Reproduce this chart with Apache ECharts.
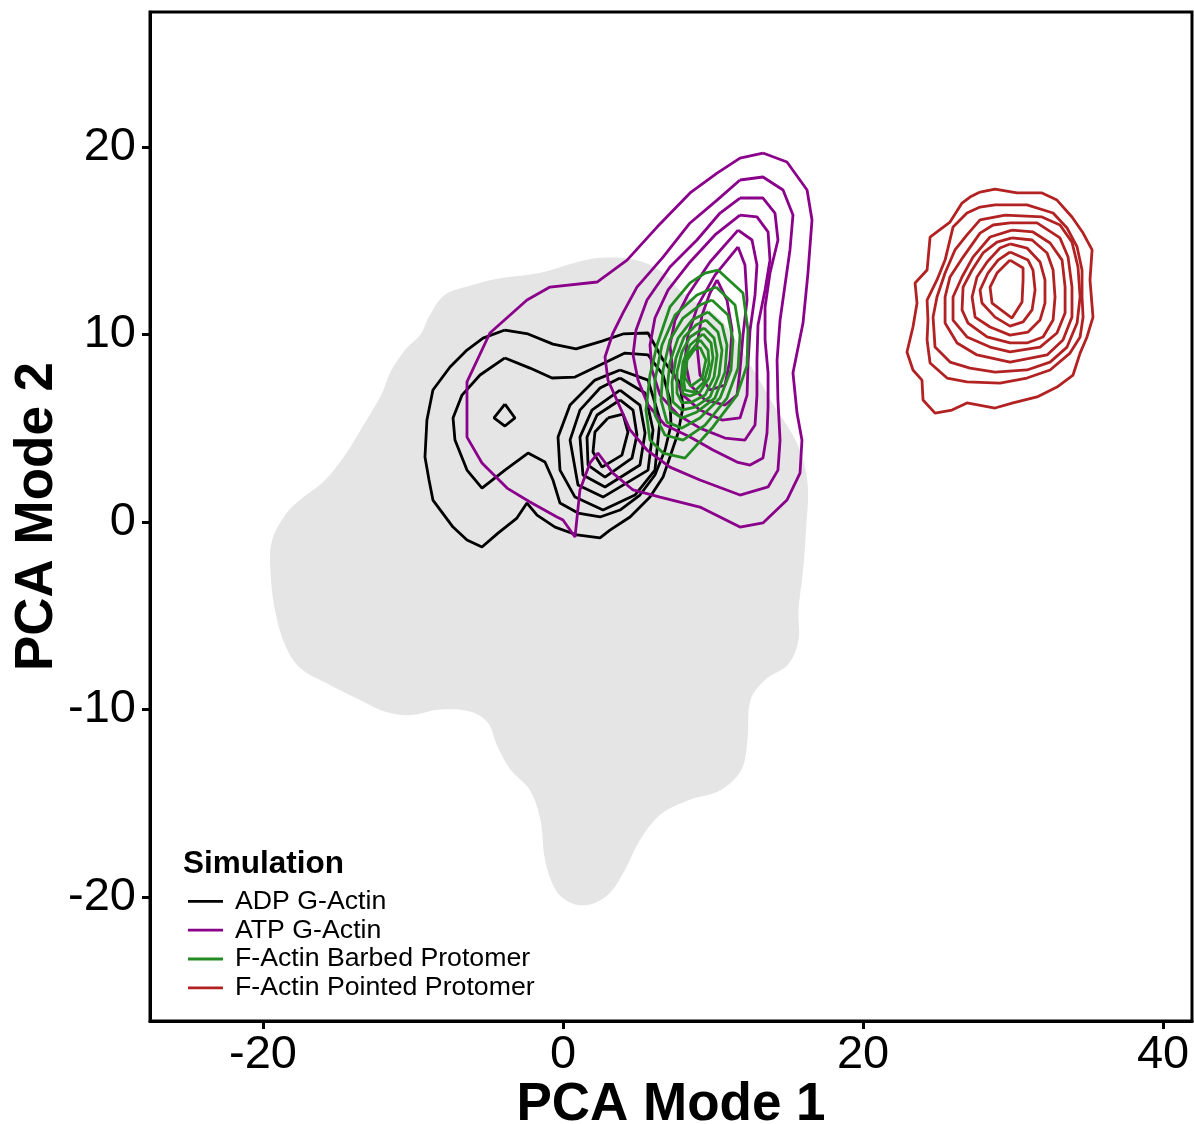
<!DOCTYPE html>
<html>
<head>
<meta charset="utf-8">
<script src="https://cdn.jsdelivr.net/npm/echarts@6/dist/echarts.min.js"></script>
<style>
  html, body { margin: 0; padding: 0; background: #fff; }
  #chart { width: 1194px; height: 1124px; }
</style>
</head>
<body>
<div id="chart"></div>
<script>
// axis ticks
var xTicks = [-20, 0, 20, 40];
var yTicks = [-20, -10, 0, 10, 20];

var seriesNames = ['ADP G-Actin', 'ATP G-Actin', 'F-Actin Barbed Protomer', 'F-Actin Pointed Protomer'];
var seriesColors = ['#000000', '#8B008B', '#228B22', '#B22222'];

// grey background density region (outline, PCA units)
var backgroundRegion = [
  [2.5,14.1],[4.7,14.0],[6.5,13.4],[8.0,12.2],[10.5,10.8],[12.7,8.1],[14.0,6.3],[15.6,4.2],
  [16.3,2.1],[16.2,-0.4],[16.0,-2.6],[15.7,-4.7],[15.7,-6.3],[15.0,-7.6],[13.5,-8.4],[12.5,-9.5],
  [12.3,-11.6],[11.9,-13.2],[10.5,-14.3],[8.5,-14.8],[6.5,-15.6],[5.1,-17.0],[4.1,-18.6],[3.1,-19.8],
  [1.8,-20.4],[0.5,-20.3],[-0.5,-19.6],[-1.2,-18.0],[-1.5,-15.9],[-2.2,-14.3],[-3.5,-13.2],[-4.4,-11.9],
  [-5.0,-10.7],[-6.2,-10.1],[-8.2,-10.0],[-10.2,-10.3],[-11.9,-10.1],[-13.5,-9.5],[-15.5,-8.7],[-17.5,-7.8],
  [-18.5,-6.6],[-19.2,-4.7],[-19.5,-2.6],[-19.4,-1.0],[-18.5,0.4],[-17.5,1.2],[-15.9,2.2],[-14.5,3.6],
  [-13.5,4.9],[-12.1,6.8],[-11.5,8.0],[-10.5,9.2],[-9.5,10.0],[-8.9,11.0],[-7.9,12.1],[-6.2,12.6],
  [-4.2,13.0],[-1.5,13.3],[1.1,13.9]
];

// ADP G-Actin contours
var adpRings = [
  [[-3.87,10.24],[-2.33,10.03],[-0.67,9.49],[0.87,9.23],[2.6,9.65],[4.0,10.03],[5.67,10.08],[6.67,8.64],
   [7.8,7.41],[8.0,6.13],[7.67,4.75],[7.13,3.47],[6.67,2.4],[5.8,1.33],[4.47,0.27],[3.13,-0.43],
   [2.47,-0.85],[0.93,-0.69],[-0.53,-0.27],[-1.73,0.37],[-2.4,1.01],[-3.07,0.21],[-4.33,-0.59],[-5.4,-1.33],
   [-6.4,-0.96],[-7.33,-0.27],[-8.67,1.17],[-8.93,2.24],[-9.2,3.47],[-9.07,5.44],[-8.67,7.04],[-7.53,8.27],
   [-6.4,9.17],[-5.33,9.81]],
  [[-3.87,8.75],[-2.2,8.21],[-0.73,7.68],[0.8,7.73],[2.47,8.37],[4.13,9.01],[5.67,8.91],[6.67,7.84],
   [7.13,6.51],[7.2,5.17],[6.8,3.84],[6.13,2.51],[5.13,1.44],[3.8,0.64],[2.47,0.27],[1.0,0.48],
   [-0.2,1.01],[-0.67,2.24],[-1.2,3.2],[-2.33,3.68],[-3.87,2.77],[-5.4,1.81],[-6.4,2.77],[-7.2,4.37],
   [-7.33,5.55],[-6.73,6.77],[-5.53,7.84]],
  [[-3.87,6.29],[-3.2,5.55],[-3.87,5.12],[-4.6,5.55]],
  [[3.8,8.11],[5.67,7.57],[6.47,5.44],[6.13,2.77],[4.8,1.44],[2.67,0.64],[0.8,1.33],[-0.2,2.77],
   [-0.33,4.53],[0.47,6.24],[2.13,7.57]],
  [[3.8,7.68],[5.47,6.88],[6.0,4.91],[5.67,2.77],[2.67,1.33],[1.0,1.97],[0.47,4.37],[1.13,5.97],[2.47,7.15]],
  [[3.8,7.04],[5.13,6.24],[5.47,4.75],[5.13,3.04],[2.8,1.87],[1.33,2.51],[1.13,4.53],[1.93,5.97]],
  [[3.8,6.51],[4.67,5.97],[4.93,4.64],[4.6,3.41],[2.8,2.4],[1.67,3.04],[1.6,4.53],[2.27,5.71]],
  [[3.0,5.55],[4.0,5.76],[4.33,4.8],[3.93,3.57],[2.6,2.93],[2.0,3.73],[2.13,4.8]]
];

// ATP G-Actin contours
var atpRings = [
  [[13.33,19.68],[14.93,19.2],[16.27,17.71],[16.6,16.11],[16.33,13.28],[16.0,10.61],[15.33,7.95],[15.6,5.81],
   [15.93,4.37],[15.8,2.61],[14.93,1.17],[13.33,-0.05],[11.8,-0.27],[9.13,0.8],[6.47,1.33],[4.67,1.71],
   [3.33,2.61],[2.33,3.68],[1.8,3.15],[1.13,1.71],[0.8,-0.8],[0.0,0.11],[-0.4,0.27],[-2.2,1.07],
   [-3.73,1.81],[-5.4,3.15],[-6.4,4.53],[-6.4,7.47],[-4.87,10.08],[-2.4,11.84],[-0.87,12.53],[2.27,12.8],
   [4.27,13.97],[6.27,15.73],[8.47,17.55],[10.27,18.61],[11.8,19.41]],
  [[11.8,18.24],[13.33,18.4],[14.67,17.71],[15.33,16.37],[15.13,14.51],[14.8,12.64],[14.47,10.77],[14.27,8.64],
   [14.33,6.51],[14.47,4.37],[14.33,2.77],[13.67,1.87],[11.8,1.44],[9.13,2.24],[7.13,2.93],[5.6,3.84],
   [4.47,4.91],[3.8,6.13],[3.0,7.57],[2.8,8.8],[3.33,10.08],[4.0,11.15],[4.93,12.53],[6.67,14.13],
   [8.47,15.95],[10.27,17.17]],
  [[11.8,17.28],[13.33,17.28],[14.13,16.48],[14.33,15.04],[13.8,13.28],[13.47,11.47],[13.47,9.71],[13.67,7.95],
   [13.67,6.13],[13.6,4.75],[13.33,3.41],[12.47,3.04],[11.6,3.2],[10.0,3.84],[8.47,4.53],[6.8,5.17],
   [5.67,6.24],[5.0,7.57],[4.67,8.91],[4.87,10.24],[5.6,11.84],[7.13,13.6],[8.93,15.04],[10.47,16.48]],
  [[11.8,16.37],[12.93,16.27],[13.67,15.47],[13.8,13.97],[13.47,12.37],[13.0,10.51],[12.93,8.64],[12.93,6.77],
   [12.8,5.17],[12.13,4.37],[10.8,4.48],[9.13,5.01],[7.67,5.71],[6.47,6.77],[5.93,8.11],[5.8,9.44],
   [6.13,10.88],[7.0,12.37],[8.47,13.87],[10.13,15.31]],
  [[11.67,15.57],[12.6,15.04],[12.93,13.71],[12.8,12.11],[12.47,10.24],[12.33,8.37],[12.27,6.77],[11.8,5.55],
   [10.6,5.44],[9.13,5.97],[8.0,6.77],[7.33,8.0],[7.13,9.44],[7.47,10.77],[8.33,12.11],[9.8,13.87]],
  [[11.67,14.67],[12.13,13.71],[12.27,11.84],[12.0,9.97],[11.8,8.11],[11.6,6.77],[10.8,6.24],[9.47,6.51],
   [8.47,7.31],[8.13,8.64],[8.33,9.97],[9.0,11.57],[10.13,13.17]],
  [[10.27,12.91],[10.93,11.84],[11.27,10.24],[11.13,8.64],[10.8,7.31],[9.8,7.04],[9.13,7.84],[8.93,9.44],
   [9.27,11.04],[9.8,12.21]]
];

// F-Actin barbed protomer contours
var barbedRings = [
  [[10.33,13.44],[12.0,12.21],[12.33,10.24],[12.27,8.37],[11.6,6.77],[10.0,5.07],[8.13,3.41],[6.67,3.68],
   [5.8,4.37],[5.53,5.97],[5.8,7.84],[6.27,9.44],[7.13,11.47],[8.47,12.75],[9.47,13.28]],
  [[10.2,12.53],[11.47,11.57],[11.8,9.97],[11.67,8.21],[10.93,6.61],[9.47,5.17],[8.0,4.37],[6.8,4.64],
   [6.13,5.71],[6.13,7.57],[6.6,9.44],[7.47,11.04],[8.93,12.11]],
  [[9.93,11.84],[11.0,11.04],[11.33,9.71],[11.2,8.11],[10.47,6.61],[9.13,5.55],[7.93,5.01],[6.93,5.33],
   [6.53,6.51],[6.67,8.11],[7.13,9.71],[8.0,10.88],[9.13,11.57]],
  [[9.67,11.2],[10.6,10.51],[10.93,9.44],[10.8,8.0],[10.13,6.61],[8.93,5.87],[7.93,5.55],[7.13,5.97],
   [6.93,7.04],[7.13,8.53],[7.67,9.81],[8.6,10.77]],
  [[9.53,10.77],[10.33,10.13],[10.6,9.17],[10.4,7.84],[9.8,6.67],[8.8,6.13],[7.93,5.97],[7.33,6.4],
   [7.27,7.47],[7.53,8.75],[8.07,9.87],[8.87,10.51]],
  [[9.4,10.35],[10.07,9.81],[10.27,8.91],[10.07,7.73],[9.47,6.77],[8.6,6.4],[7.93,6.35],[7.6,6.88],
   [7.6,8.0],[7.93,9.07],[8.47,9.87]],
  [[9.33,10.03],[9.87,9.55],[10.0,8.75],[9.73,7.68],[9.13,6.93],[8.47,6.72],[8.0,6.83],[7.87,7.57],
   [8.0,8.53],[8.47,9.44]],
  [[9.13,9.71],[9.67,9.17],[9.73,8.43],[9.4,7.47],[8.73,6.93],[8.13,7.04],[8.0,7.84],[8.33,8.91]],
  [[9.13,9.33],[9.53,8.64],[9.27,7.68],[8.53,7.25],[8.13,7.68],[8.27,8.64],[8.73,9.17]]
];

// F-Actin pointed protomer contours
var pointedRings = [
  [[27.8,17.6],[28.8,17.76],[30.27,17.55],[31.93,17.55],[32.93,17.17],[33.93,16.27],[34.67,15.41],[35.27,14.51],
   [35.13,12.91],[35.33,10.93],[34.93,9.87],[34.47,9.01],[34.0,7.84],[32.93,7.2],[31.6,6.67],[30.0,6.35],
   [28.8,6.08],[26.93,6.35],[25.93,5.97],[24.8,5.81],[24.0,6.51],[23.93,7.57],[23.33,8.11],[22.93,9.07],
   [23.33,10.4],[23.6,11.68],[23.47,12.75],[24.27,13.44],[24.47,15.2],[24.93,15.47],[25.8,16.0],[26.6,17.01],
   [27.13,17.33]],
  [[28.8,16.91],[30.93,16.91],[32.67,16.48],[33.6,15.68],[34.27,14.67],[34.6,13.44],[34.6,12.0],[34.67,10.93],
   [34.47,9.87],[33.8,9.01],[32.47,8.11],[30.93,7.68],[29.13,7.41],[26.93,7.47],[25.6,7.68],[24.47,8.48],
   [24.27,9.71],[24.33,10.77],[24.27,11.84],[24.93,12.91],[25.47,13.97],[26.0,15.73],[26.93,16.48],[27.8,16.8]],
  [[29.47,16.37],[31.93,16.27],[33.13,15.84],[33.93,14.93],[34.33,13.6],[34.47,12.0],[34.27,10.61],[33.6,9.33],
   [32.47,8.53],[30.93,8.11],[28.8,8.0],[27.13,8.21],[25.8,8.53],[24.8,9.33],[24.67,10.93],[24.93,12.0],
   [25.47,13.28],[26.13,14.51],[26.93,15.31],[27.8,16.11]],
  [[29.8,15.95],[31.6,15.95],[33.13,15.15],[33.67,14.13],[33.93,12.53],[33.93,10.93],[33.33,9.71],[32.27,8.91],
   [29.8,8.53],[27.6,8.91],[26.27,9.55],[25.47,10.61],[25.47,12.0],[25.8,13.07],[26.67,14.13],[27.8,15.41],
   [28.67,15.84]],
  [[29.93,15.57],[31.33,15.47],[32.47,14.88],[33.27,13.97],[33.47,12.53],[33.47,11.15],[32.93,10.08],[31.8,9.33],
   [29.8,9.07],[28.47,9.33],[26.93,9.87],[26.0,10.77],[26.0,12.0],[26.6,13.07],[27.33,14.13],[28.47,15.2]],
  [[29.93,15.15],[31.27,15.04],[32.27,14.35],[32.67,13.44],[32.8,12.0],[32.67,10.77],[32.0,9.87],[30.93,9.55],
   [29.8,9.55],[28.27,9.87],[27.0,10.61],[26.6,11.31],[26.67,12.53],[27.27,13.44],[28.0,14.35],[28.93,14.93]],
  [[29.8,14.83],[30.93,14.61],[31.8,13.87],[32.13,12.91],[32.13,11.68],[31.8,10.77],[31.0,10.13],[29.8,9.97],
   [28.47,10.4],[27.47,10.93],[27.27,12.0],[27.6,13.07],[28.27,13.87],[29.13,14.61]],
  [[29.8,14.4],[31.0,13.97],[31.33,13.44],[31.47,12.37],[31.27,11.31],[30.67,10.67],[29.8,10.45],[28.8,10.93],
   [27.93,11.68],[27.8,12.37],[28.33,13.28],[29.0,13.97]],
  [[29.8,13.97],[30.67,13.55],[30.67,12.91],[30.6,11.73],[29.93,10.88],[28.6,11.68],[28.47,12.53],[28.93,13.28]]
];

var FONT = '"Liberation Sans", Arial, Helvetica, sans-serif';
var chart = echarts.init(document.getElementById('chart'), null, { renderer: 'canvas' });

var series = [];
series.push({
  type: 'custom',
  coordinateSystem: 'cartesian2d',
  data: backgroundRegion,
  encode: { x: 0, y: 1 },
  silent: true,
  clip: true,
  z: 1,
  renderItem: function (params, api) {
    if (params.dataIndex !== 0) return null;
    var pts = backgroundRegion.map(function (p) { return api.coord(p); });
    return {
      type: 'polygon',
      shape: { points: pts, smooth: 0.35 },
      style: { fill: '#E5E5E5', stroke: null }
    };
  }
});

[adpRings, atpRings, barbedRings, pointedRings].forEach(function (rings, g) {
  rings.forEach(function (ring) {
    series.push({
      name: seriesNames[g],
      type: 'line',
      data: ring.concat([ring[0]]),
      symbol: 'none',
      smooth: false,
      silent: true,
      z: 3 + g,
      lineStyle: { color: seriesColors[g], width: 2.8 },
      itemStyle: { color: seriesColors[g] }
    });
  });
});

var option = {
  animation: false,
  backgroundColor: '#fff',
  title: {
    text: 'Simulation',
    left: 183,
    top: 848,
    padding: 0,
    textStyle: { fontFamily: FONT, fontSize: 31.5, fontWeight: 'bold', color: '#000' }
  },
  legend: {
    data: seriesNames,
    orient: 'vertical',
    left: 188,
    top: 887,
    padding: 0,
    itemGap: 0,
    itemWidth: 35,
    itemHeight: 2.8,
    icon: 'rect',
    textStyle: { fontFamily: FONT, fontSize: 26.7, color: '#000', lineHeight: 28.8, padding: [0, 0, 0, 7] }
  },
  grid: {
    left: 150, right: 2, top: 12, bottom: 103,
    outerBoundsMode: 'none',
    containLabel: false,
    show: true, borderColor: '#000', borderWidth: 3, backgroundColor: 'transparent'
  },
  xAxis: {
    type: 'value',
    min: -27.53, max: 41.93,
    splitNumber: 3,
    name: 'PCA Mode 1',
    nameLocation: 'middle',
    nameGap: 58,
    nameMoveOverlap: false,
    nameTextStyle: { fontFamily: FONT, fontSize: 53, fontWeight: 'bold', color: '#000' },
    axisLine: { show: true, onZero: false, lineStyle: { color: '#000', width: 3 } },
    axisTick: { show: true, length: 8, lineStyle: { color: '#000', width: 3 }, customValues: xTicks },
    axisLabel: { fontFamily: FONT, fontSize: 47, color: '#000', margin: 11, customValues: xTicks },
    splitLine: { show: false }
  },
  yAxis: {
    type: 'value',
    min: -26.61, max: 27.2,
    splitNumber: 5,
    name: 'PCA Mode 2',
    nameLocation: 'middle',
    nameGap: 86,
    nameMoveOverlap: false,
    nameTextStyle: { fontFamily: FONT, fontSize: 53, fontWeight: 'bold', color: '#000' },
    axisLine: { show: true, onZero: false, lineStyle: { color: '#000', width: 3 } },
    axisTick: { show: true, length: 8, lineStyle: { color: '#000', width: 3 }, customValues: yTicks },
    axisLabel: { fontFamily: FONT, fontSize: 47, color: '#000', margin: 14, customValues: yTicks },
    splitLine: { show: false }
  },
  series: series
};
chart.setOption(option);
</script>
</body>
</html>
